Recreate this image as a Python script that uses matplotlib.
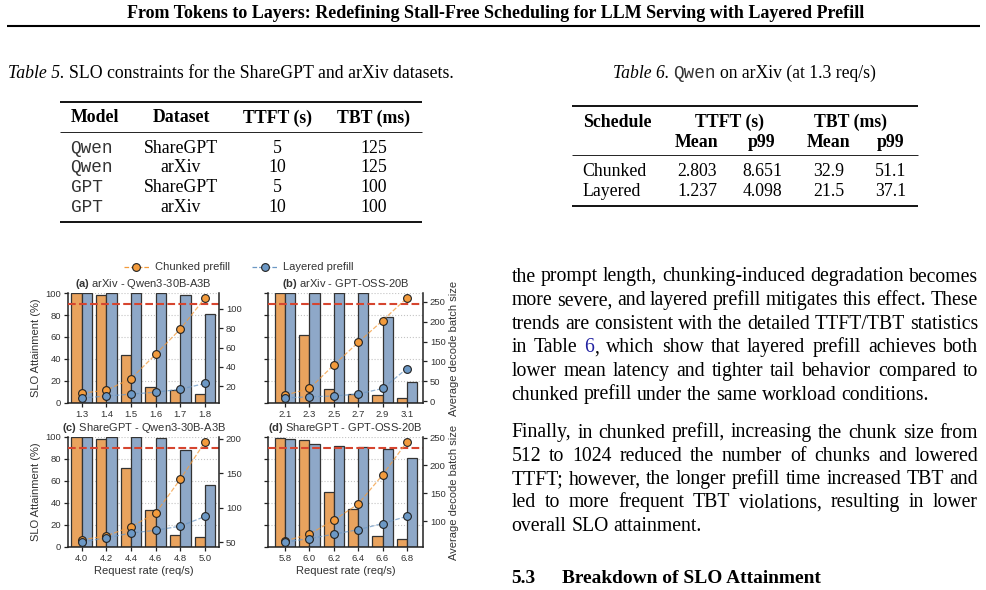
import numpy as np
import matplotlib
matplotlib.use('Agg')
import matplotlib.pyplot as plt
from matplotlib.lines import Line2D
from matplotlib.font_manager import FontProperties

# ---------------- data ----------------
rates_a = ['1.3', '1.4', '1.5', '1.6', '1.7', '1.8']
slo_chunked_a = [100, 98, 44, 15, 12, 8]
slo_layered_a = [100, 100, 100, 100, 98, 81]
batch_chunked_a = [13, 16, 28, 53, 79, 111]
batch_layered_a = [8, 10, 12, 14, 17, 23]

rates_b = ['2.1', '2.3', '2.5', '2.7', '2.9', '3.1']
slo_chunked_b = [100, 62, 13, 8, 7, 5]
slo_layered_b = [100, 100, 100, 100, 78, 19]
batch_chunked_b = [15, 32, 91, 148, 203, 260]
batch_layered_b = [8, 11, 13, 18, 32, 82]

rates_c = ['4.0', '4.2', '4.4', '4.6', '4.8', '5.0']
slo_chunked_c = [100, 98, 72, 34, 11, 9]
slo_layered_c = [100, 100, 100, 99, 88, 56]
batch_chunked_c = [53, 59, 72, 92, 141, 195]
batch_layered_c = [50, 56, 63, 67, 73, 87]

rates_d = ['5.8', '6.0', '6.2', '6.4', '6.6', '6.8']
slo_chunked_d = [99, 97, 50, 35, 10, 7]
slo_layered_d = [98, 94, 92, 91, 89, 81]
batch_chunked_d = [65, 77, 102, 131, 183, 242]
batch_layered_d = [63, 69, 77, 85, 96, 109]

slo_target = 90

table5_header = ['Model', 'Dataset', 'TTFT (s)', 'TBT (ms)']
table5_models = ['Qwen', 'Qwen', 'GPT', 'GPT']
table5_datasets = ['ShareGPT', 'arXiv', 'ShareGPT', 'arXiv']
table5_ttft = ['5', '10', '5', '10']
table5_tbt = ['125', '125', '100', '100']

table6_schedules = ['Chunked', 'Layered']
table6_ttft_mean = ['2.803', '1.237']
table6_ttft_p99 = ['8.651', '4.098']
table6_tbt_mean = ['32.9', '21.5']
table6_tbt_p99 = ['51.1', '37.1']

paper_title = 'From Tokens to Layers: Redefining Stall-Free Scheduling for LLM Serving with Layered Prefill'
para1 = ['the prompt length, chunking-induced degradation becomes',
         'more severe, and layered prefill mitigates this effect. These',
         'trends are consistent with the detailed TTFT/TBT statistics',
         'in Table [6], which show that layered prefill achieves both',
         'lower mean latency and tighter tail behavior compared to',
         'chunked prefill under the same workload conditions.']
para2 = ['Finally, in chunked prefill, increasing the chunk size from',
         '512 to 1024 reduced the number of chunks and lowered',
         'TTFT; however, the longer prefill time increased TBT and',
         'led to more frequent TBT violations, resulting in lower',
         'overall SLO attainment.']

# ---------------- style ----------------
SERIF = 'Liberation Serif'
MONO = 'Liberation Mono'
SANS = 'Liberation Sans'
plt.rcParams['font.family'] = [SANS, 'DejaVu Sans']
plt.rcParams['mathtext.fontset'] = 'custom'
plt.rcParams['mathtext.rm'] = SANS
plt.rcParams['mathtext.bf'] = SANS + ':bold'

C_OR_BAR = '#E9A35E'
C_BL_BAR = '#8EA8C8'
C_OR_PT = '#F39B3C'
C_BL_PT = '#6C98C5'
C_RED = '#D6452F'
EDGE = '#333333'
TXT = '#333333'
LINK = '#2020A0'

W, H = 986, 590
fig = plt.figure(figsize=(W / 100, H / 100), dpi=100)
renderer = fig.canvas.get_renderer()


def fx(x):
    return x / W


def fy(y):
    return 1 - y / H


def measure(s, size, family=SERIF, weight='normal', style='normal'):
    t = fig.text(0, 0, s, fontsize=size, family=family, weight=weight, style=style)
    w = t.get_window_extent(renderer).width
    t.remove()
    return w


def fit(s, target, family=SERIF, weight='normal', style='normal'):
    return 10.0 * target / measure(s, 10.0, family, weight, style)


def put(x, y, s, size, family=SERIF, weight='normal', style='normal', ha='left',
        color='black'):
    return fig.text(fx(x), fy(y), s, fontsize=size, family=family, weight=weight,
                    style=style, ha=ha, va='baseline', color=color)


def space_w(size, family=SERIF, weight='normal'):
    return measure('x x', size, family, weight) - measure('xx', size, family, weight)


def hrule(x0, x1, y, lw):
    fig.add_artist(Line2D([fx(x0), fx(x1)], [fy(y), fy(y)], transform=fig.transFigure,
                          color='black', lw=lw, solid_capstyle='butt'))


# ---------------- page header ----------------
hs = fit(paper_title, 740, weight='bold')
put(496, 18, paper_title, hs, weight='bold', ha='center')
hrule(7, 980, 25.5, 1.5)

# ---------------- table 5 ----------------
cap5_a, cap5_b = 'Table 5.', 'SLO constraints for the ShareGPT and arXiv datasets.'
tot = measure(cap5_a, 10, style='italic') + space_w(10) + measure(cap5_b, 10)
cs = 10 * 447 / tot
put(8, 78.5, cap5_a, cs, style='italic')
put(8 + measure(cap5_a, cs, style='italic') + space_w(cs), 78.5, cap5_b, cs)

ts = fit('ShareGPT', 74)
hrule(60, 422, 102, 1.3)
hrule(60, 422, 132, 0.6)
hrule(60, 422, 222, 1.3)
col5 = [(71, 'left'), (181, 'center'), (277.5, 'center'), (373.5, 'center')]
for (cx, ha), h in zip(col5, table5_header):
    put(cx, 122.5, h, ts, weight='bold', ha=ha)
for r in range(len(table5_models)):
    yb = 152.7 + r * 19.8
    put(70.5, yb, table5_models[r], ts, family=MONO, color='#333333')
    put(181, yb, table5_datasets[r], ts, ha='center')
    put(277.5, yb, table5_ttft[r], ts, ha='center')
    put(373.5, yb, table5_tbt[r], ts, ha='center')

# ---------------- table 6 ----------------
segs6 = [('Table 6.', dict(style='italic')), ('Qwen', dict(family=MONO)),
         ('on arXiv (at 1.3 req/s)', dict())]
tot = sum(measure(t, 10, **kw) for t, kw in segs6) + 2 * space_w(10)
c6 = 10 * 264 / tot
x = 613
for t, kw in segs6:
    put(x, 77.7, t, c6, color='#333333' if kw.get('family') == MONO else 'black', **kw)
    x += measure(t, c6, **kw) + space_w(c6)

hrule(572, 918, 105.7, 1.3)
hrule(572, 918, 155, 0.6)
hrule(572, 918, 205.7, 1.3)
put(582.7, 126.7, 'Schedule', ts, weight='bold')
put(729.5, 126.7, 'TTFT (s)', ts, weight='bold', ha='center')
put(850.5, 126.7, 'TBT (ms)', ts, weight='bold', ha='center')
cols6 = [697, 762, 829, 890.5]
for cx, h in zip(cols6, ['Mean', 'p99', 'Mean', 'p99']):
    put(cx, 146.7, h, ts, weight='bold', ha='center')
for r in range(len(table6_schedules)):
    yb = 175.7 + r * 20.6
    put(582.7, yb, table6_schedules[r], ts)
    for cx, v in zip(cols6, [table6_ttft_mean[r], table6_ttft_p99[r],
                             table6_tbt_mean[r], table6_tbt_p99[r]]):
        put(cx, yb, v, ts, ha='center')

# ---------------- body text ----------------
bs = fit('chunked prefill under the same workload conditions.', 416)


def word_segments(w):
    if '[' in w:
        pre, rest = w.split('[', 1)
        num, post = rest.split(']', 1)
        segs = []
        if pre:
            segs.append((pre, 'black'))
        segs.append((num, LINK))
        if post:
            segs.append((post, 'black'))
        return segs
    return [(w, 'black')]


def justify(lines, x0, x1, yb0, dy, size):
    sp = space_w(size)
    for i, line in enumerate(lines):
        words = [word_segments(w) for w in line.split(' ')]
        widths = [sum(measure(t, size) for t, c in w) for w in words]
        if i == len(lines) - 1:
            gap = sp
        else:
            gap = (x1 - x0 - sum(widths)) / (len(words) - 1)
        x = x0
        y = yb0 + i * dy
        for w, wd in zip(words, widths):
            xx = x
            for t, c in w:
                put(xx, y, t, size, color=c)
                xx += measure(t, size)
            x += wd + gap


justify(para1, 511.5, 978, 281.5, 23.6, bs)
justify(para2, 511.5, 978, 437.5, 23.3, bs)

hb = fit('Breakdown of SLO Attainment', 260, weight='bold')
put(511.5, 583, '5.3', hb, weight='bold')
put(561.7, 583, 'Breakdown of SLO Attainment', hb, weight='bold')

# ---------------- chart ----------------
panels = [
    dict(pos=(68, 219, 293, 403), xlim=(-0.56, 5.57), rates=rates_a,
         sc=slo_chunked_a, sl=slo_layered_a, bc=batch_chunked_a, bl=batch_layered_a,
         tag='(a)', title='arXiv - Qwen3-30B-A3B', left=True, xlabel=False,
         rticks=[20, 40, 60, 80, 100]),
    dict(pos=(268, 423, 293, 403), xlim=(-0.7, 5.66), rates=rates_b,
         sc=slo_chunked_b, sl=slo_layered_b, bc=batch_chunked_b, bl=batch_layered_b,
         tag='(b)', title='arXiv - GPT-OSS-20B', left=False, xlabel=False,
         rticks=[0, 50, 100, 150, 200, 250]),
    dict(pos=(68, 219, 437, 547), xlim=(-0.56, 5.57), rates=rates_c,
         sc=slo_chunked_c, sl=slo_layered_c, bc=batch_chunked_c, bl=batch_layered_c,
         tag='(c)', title='ShareGPT - Qwen3-30B-A3B', left=True, xlabel=True,
         rticks=[50, 100, 150, 200]),
    dict(pos=(268, 423, 437, 547), xlim=(-0.7, 5.66), rates=rates_d,
         sc=slo_chunked_d, sl=slo_layered_d, bc=batch_chunked_d, bl=batch_layered_d,
         tag='(d)', title='ShareGPT - GPT-OSS-20B', left=False, xlabel=True,
         rticks=[100, 150, 200, 250]),
]

TICK_FS = 6.8
LAB_FS = 8
BW = 0.42

for p in panels:
    x0, x1, y0, y1 = p['pos']
    ax = fig.add_axes([fx(x0), fy(y1), (x1 - x0) / W, (y1 - y0) / H])
    idx = np.arange(len(p['rates']))
    ax.bar(idx - BW / 2, p['sc'], BW, color=C_OR_BAR, edgecolor=EDGE, lw=0.9, zorder=2)
    ax.bar(idx + BW / 2, p['sl'], BW, color=C_BL_BAR, edgecolor=EDGE, lw=0.9, zorder=2)
    ax.axhline(slo_target, color=C_RED, lw=1.5, dashes=(3.7, 1.6), zorder=3)
    ax.set_ylim(0, 100)
    ax.set_yticks(range(0, 101, 20))
    ax.set_xlim(*p['xlim'])
    ax.set_xticks(idx)
    ax.set_xticklabels(p['rates'])
    ax.yaxis.grid(True, linestyle=':', color='#c4c4c4', lw=0.8)
    ax.set_axisbelow(True)
    for s in ['top', 'right']:
        ax.spines[s].set_visible(False)
    for s in ['left', 'bottom']:
        ax.spines[s].set_linewidth(1.1)
        ax.spines[s].set_color('#222222')
    ax.tick_params(axis='both', labelsize=TICK_FS, length=3, width=0.9, pad=2,
                   colors='#222222', labelcolor=TXT)
    if not p['left']:
        ax.tick_params(axis='y', labelleft=False)
    else:
        ax.set_ylabel('SLO Attainment (%)', fontsize=LAB_FS, color=TXT, labelpad=3)
    if p['xlabel']:
        ax.set_xlabel('Request rate (req/s)', fontsize=LAB_FS, color=TXT, labelpad=2)
    ax.set_title(r'$\bf{' + p['tag'] + '}$ ' + p['title'], fontsize=LAB_FS,
                 color=TXT, pad=4)

    ax2 = ax.twinx()
    ax2.plot(idx, p['bc'], ls='--', color=C_OR_PT, lw=0.9, alpha=0.75, zorder=3)
    ax2.plot(idx, p['bl'], ls='--', color=C_BL_PT, lw=0.9, alpha=0.75, zorder=3)
    ax2.plot(idx, p['bc'], ls='none', marker='o', ms=5.6, mfc=C_OR_PT, mec='#222222',
             mew=0.8, zorder=4)
    ax2.plot(idx, p['bl'], ls='none', marker='o', ms=5.6, mfc=C_BL_PT, mec='#222222',
             mew=0.8, zorder=4)
    ax2.set_yticks(p['rticks'])
    for s in ['top', 'left', 'bottom']:
        ax2.spines[s].set_visible(False)
    ax2.spines['right'].set_linewidth(1.1)
    ax2.spines['right'].set_color('#222222')
    ax2.tick_params(axis='y', labelsize=TICK_FS, length=3, width=0.9, pad=2,
                    colors='#222222', labelcolor=TXT)
    if not p['left']:
        ax2.set_ylabel('Average decode batch size', fontsize=LAB_FS, color=TXT,
                       labelpad=2)

handles = [
    Line2D([0], [0], ls='--', color=C_OR_PT, lw=0.9, marker='o', ms=5.6,
           mfc=C_OR_PT, mec='#222222', mew=0.8),
    Line2D([0], [0], ls='--', color=C_BL_PT, lw=0.9, marker='o', ms=5.6,
           mfc=C_BL_PT, mec='#222222', mew=0.8),
]
fig.legend(handles, ['Chunked prefill', 'Layered prefill'], loc='center',
           bbox_to_anchor=(fx(238.5), fy(267.5)), ncol=2, frameon=False,
           prop=FontProperties(family=SANS, size=LAB_FS), handlelength=2.3,
           handletextpad=0.5, columnspacing=2.0, labelcolor=TXT)

fig.savefig('out.png', dpi=100)
